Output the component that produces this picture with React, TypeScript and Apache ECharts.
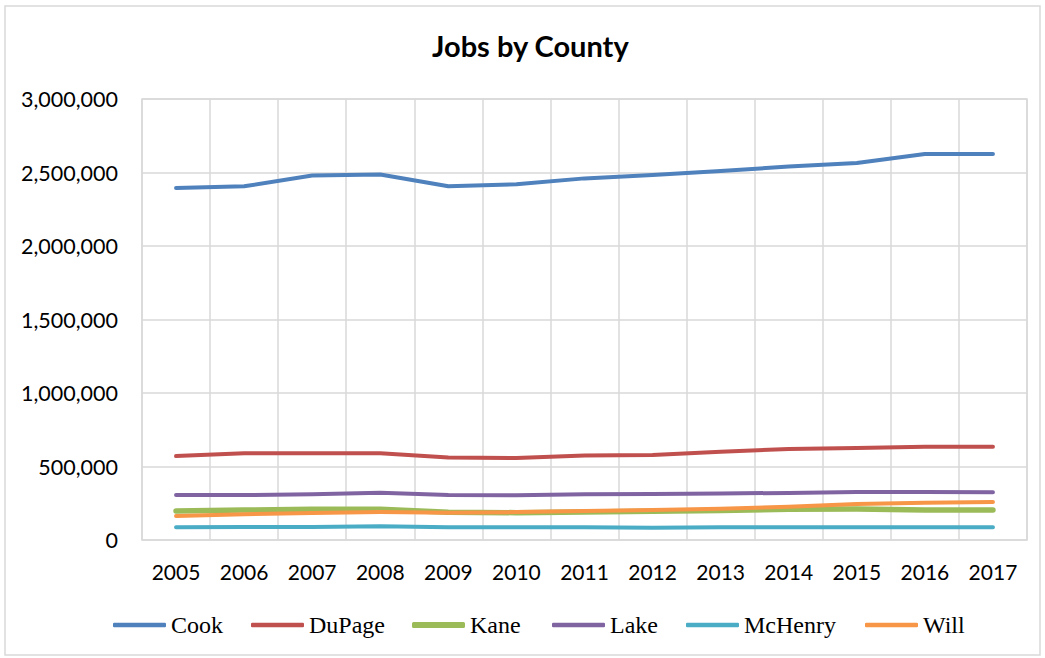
import React, { useEffect, useRef } from "react";
import * as echarts from "echarts";

const years = ["2005","2006","2007","2008","2009","2010","2011","2012","2013","2014","2015","2016","2017"];
const cook = [2395000,2406000,2480000,2487000,2406000,2420000,2460000,2483000,2510000,2540000,2565000,2626000,2626000];
const dupage = [571000,590000,590000,590000,562000,558000,575000,578000,601000,619000,626000,635000,635000];
const kane = [197000,204000,209000,209000,188000,186000,190000,195000,200000,209000,211000,204000,204000];
const lake = [306000,306000,311000,322000,306000,304000,311000,313000,317000,320000,327000,327000,325000];
const mchenry = [86000,88000,88000,93000,86000,86000,86000,84000,86000,86000,86000,86000,86000];
const will = [163000,175000,184000,190000,186000,190000,197000,204000,213000,227000,245000,254000,258000];

const seriesNames = ["Cook","DuPage","Kane","Lake","McHenry","Will"];
const seriesData = [cook, dupage, kane, lake, mchenry, will];
const colors = ["#4F81BD","#C0504D","#9BBB59","#8064A2","#4BACC6","#F79646"];
const widths = [4, 4, 5.5, 4, 4, 4];
const legendLeft = [108, 246, 407, 547, 681, 860];

export default function App() {
  const ref = useRef<HTMLDivElement>(null);
  useEffect(() => {
    if (!ref.current) return;
    const chart = echarts.init(ref.current, null, { renderer: "svg" });
    chart.setOption({
      animation: false,
      backgroundColor: "#ffffff",
      title: {
        text: "Jobs by County",
        left: 427,
        top: 26,
        textStyle: { fontFamily: "Lato", fontWeight: "bold", fontSize: 29, color: "#000" },
      },
      graphic: [
        {
          type: "rect",
          shape: { x: 5, y: 6, width: 1035, height: 649 },
          style: { fill: "none", stroke: "#D9D9D9", lineWidth: 1.5 },
          silent: true,
        },
      ],
      legend: seriesNames.map((n, i) => ({
        data: [n],
        left: legendLeft[i],
        top: 608,
        icon: "roundRect",
        itemWidth: 53,
        itemHeight: i === 2 ? 6 : 4.5,
        itemGap: 5,
        textStyle: { fontFamily: "Liberation Serif", fontSize: 24, color: "#000", lineHeight: 24 },
      })),
      grid: {
        left: 142,
        top: 99,
        right: 18,
        bottom: 118,
        show: true,
        borderColor: "#D9D9D9",
        borderWidth: 1.5,
        containLabel: false,
      },
      xAxis: {
        type: "category",
        data: years,
        boundaryGap: true,
        axisLine: { show: false },
        axisTick: { show: false },
        axisLabel: { fontFamily: "Lato", fontSize: 21, color: "#000", margin: 21, interval: 0 },
        splitLine: { show: true, lineStyle: { color: "#D9D9D9", width: 1.5 } },
      },
      yAxis: {
        type: "value",
        min: 0,
        max: 3000000,
        interval: 500000,
        axisLine: { show: false },
        axisTick: { show: false },
        axisLabel: {
          fontFamily: "Lato",
          fontSize: 21.5,
          color: "#000",
          margin: 24,
          formatter: (v: number) => v.toLocaleString("en-US"),
        },
        splitLine: { show: true, lineStyle: { color: "#D9D9D9", width: 1.5 } },
      },
      series: seriesNames.map((n, i) => ({
        name: n,
        type: "line",
        data: seriesData[i],
        symbol: "none",
        color: colors[i],
        lineStyle: { color: colors[i], width: widths[i], cap: "round", join: "round" },
      })),
    });
    return () => chart.dispose();
  }, []);
  return (
    <div
      ref={ref}
      style={{ position: "absolute", left: 0, top: 0, width: 1045, height: 658 }}
    />
  );
}
